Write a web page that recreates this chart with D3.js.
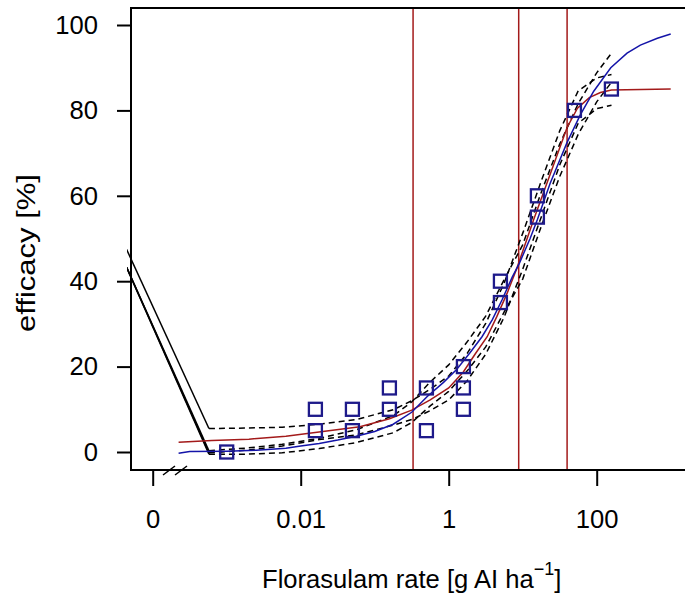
<!DOCTYPE html>
<html>
<head>
<meta charset="utf-8">
<script src="https://cdn.jsdelivr.net/npm/d3@7"></script>
<style>
body { margin: 0; background: #fff; }
text { font-family: "Liberation Sans", Arial, sans-serif; fill: #000; }
</style>
</head>
<body>
<svg id="chart" width="685" height="599"></svg>
<script>
// x ticks, 1e-4 is where the untreated control ("0") sits on the broken axis
let xTicks = [1e-4, 0.01, 1, 100]
let xTickLabels = ['0', '0.01', '1', '100']
let yTicks = [0, 20, 40, 60, 80, 100]

// observations
let obsDose = [0.001, 0.0158, 0.0158, 0.05, 0.05, 0.158, 0.158, 0.5, 0.5, 1.58, 1.58, 1.58, 5, 5, 15.8, 15.8, 50, 158]
let obsEff  = [0, 10, 5, 10, 5, 15, 10, 15, 5, 20, 15, 10, 40, 35, 60, 55, 80, 85]

// effective doses (vertical lines)
let edDose = [0.33, 8.83, 39.8]

// fitted curves, doses given as log10
let redLogDose = [-3.65, -3.2, -2.7, -2.2, -1.7, -1.2, -0.8, -0.5, -0.25, 0, 0.2, 0.36, 0.52, 0.65, 0.79, 0.92, 1.06, 1.15, 1.37, 1.6, 1.74, 1.9, 2.05, 2.2, 3.0]
let redEff     = [2.3, 2.7, 3.0, 3.7, 4.8, 5.9, 7.8, 9.8, 12.2, 15, 18.8, 23, 27, 31.7, 37.2, 43, 50, 54.5, 65, 76, 80.5, 83, 84.2, 84.8, 85]

let blueLogDose = [-3.65, -3.5, -3.0, -2.6, -2.2, -2.0, -1.75, -1.5, -1.25, -1.0, -0.75, -0.5, -0.29, -0.07, 0.11, 0.29, 0.45, 0.59, 0.72, 0.86, 0.95, 1.1, 1.2, 1.37, 1.6, 1.78, 1.96, 2.19, 2.41, 2.59, 2.82, 3.0]
let blueEff     = [-0.3, 0.1, 0.2, 0.4, 0.9, 1.4, 2.0, 2.8, 3.7, 4.8, 6.5, 9.3, 13, 16.3, 19.4, 23.3, 27, 31, 35.6, 41, 44, 50, 54.5, 62.9, 72.5, 79, 84.5, 90, 93.4, 95.3, 96.9, 97.9]

// confidence bands, first point is the control end of the solid connector
let ciLogDose = [-4.5, -3.24, -2.75, -2.25, -1.75, -1.25, -0.75, -0.5, -0.25, 0, 0.25, 0.5, 0.75, 1.0, 1.25, 1.5, 1.75, 2.0, 2.2]
let redUpper  = [53, 5.5, 5.6, 5.8, 6.5, 7.6, 9.9, 12.0, 14.7, 17.8, 23.1, 30.1, 39.6, 51.2, 63.4, 75.2, 84.6, 87.6, 88.4]
let redLower  = [49, -0.2, 0.4, 1.4, 2.9, 4.0, 6.3, 7.6, 9.7, 12.2, 16.7, 22.9, 31.6, 42.8, 55.0, 67.2, 77.0, 80.4, 81.2]
let blueUpper = [49, 0.3, 0.9, 1.8, 3.2, 5.2, 8.5, 11.7, 16.4, 20.4, 25.8, 31.8, 40.4, 48.5, 60.8, 72.1, 81.6, 88.8, 93.4]
let blueLower = [49, -0.5, -0.5, -0.2, 0.8, 2.2, 4.5, 6.9, 10.8, 14.2, 19.0, 24.6, 32.8, 40.5, 52.8, 64.5, 74.4, 82.0, 86.6]

let m = {top: 8, left: 131, right: 690, bottom: 470}
let red = '#a31a1a'
let blue = '#1414a8'
let pointCol = '#1e1a8a'

let xScale = d3.scaleLog().domain([1e-4, 100]).range([152.7, 596.7])
let yScale = d3.scaleLinear().domain([0, 100]).range([452, 25])

let svg = d3.select('#chart')

svg.append('clipPath').attr('id', 'plotclip')
    .append('rect')
    .attr('x', 127).attr('y', m.top)
    .attr('width', m.right - 127).attr('height', m.bottom - m.top)

let plot = svg.append('g').attr('clip-path', 'url(#plotclip)')

let line = d3.line()
    .x(d => xScale(Math.pow(10, d[0])))
    .y(d => yScale(d[1]))

// vertical ED lines
plot.selectAll('.ed')
        .data(edDose)
    .enter().append('line')
        .attr('x1', d => xScale(d)).attr('x2', d => xScale(d))
        .attr('y1', m.top).attr('y2', m.bottom)
        .attr('stroke', red).attr('stroke-width', 1.5)

// confidence bands
let bands = [redUpper, redLower, blueUpper, blueLower]
bands.forEach(function(b) {
    let pts = ciLogDose.map((l, i) => [l, b[i]])
    // solid connector from the control
    plot.append('path')
        .attr('d', line(pts.slice(0, 2)))
        .attr('fill', 'none').attr('stroke', '#000').attr('stroke-width', 1.5)
    plot.append('path')
        .attr('d', line(pts.slice(1)))
        .attr('fill', 'none').attr('stroke', '#000').attr('stroke-width', 1.5)
        .attr('stroke-dasharray', '6,4')
})

// fitted curves
plot.append('path')
    .attr('d', line(redLogDose.map((l, i) => [l, redEff[i]])))
    .attr('fill', 'none').attr('stroke', red).attr('stroke-width', 1.5)

plot.append('path')
    .attr('d', line(blueLogDose.map((l, i) => [l, blueEff[i]])))
    .attr('fill', 'none').attr('stroke', blue).attr('stroke-width', 1.5)

// observations
plot.selectAll('.pt')
        .data(obsDose)
    .enter().append('rect')
        .attr('x', d => xScale(d) - 6.5)
        .attr('y', (d, i) => yScale(obsEff[i]) - 6.5)
        .attr('width', 13).attr('height', 13)
        .attr('fill', 'none').attr('stroke', pointCol).attr('stroke-width', 2.3)

// box
svg.append('rect')
    .attr('x', m.left).attr('y', m.top)
    .attr('width', m.right - m.left).attr('height', m.bottom - m.top)
    .attr('fill', 'none').attr('stroke', '#000').attr('stroke-width', 2)

// axes
let yAxis = d3.axisLeft(yScale).tickValues(yTicks).tickSize(14).tickPadding(19)
let gy = svg.append('g')
    .attr('transform', `translate(${m.left}, 0)`)
    .call(yAxis)
gy.select('.domain').remove()

let xAxis = d3.axisBottom(xScale).tickValues(xTicks)
    .tickFormat((d, i) => xTickLabels[i]).tickSize(16).tickPadding(24)
let gx = svg.append('g')
    .attr('transform', `translate(0, ${m.bottom})`)
    .call(xAxis)
gx.select('.domain').remove()

svg.selectAll('.tick line').attr('stroke', '#000').attr('stroke-width', 2)
svg.selectAll('.tick text')
    .attr('font-size', 25.6)
    .attr('font-family', '"Liberation Sans", Arial, sans-serif')
    .attr('fill', '#000')

// axis break marks
let breakX = [163, 175]
breakX.forEach(function(bx) {
    svg.append('line')
        .attr('x1', bx).attr('y1', m.bottom + 5)
        .attr('x2', bx + 12).attr('y2', m.bottom - 4)
        .attr('stroke', '#000').attr('stroke-width', 1.5)
})

// labels
svg.append('text')
    .attr('transform', 'translate(35, 253) rotate(-90)')
    .attr('text-anchor', 'middle')
    .attr('font-size', 25.6)
    .attr('textLength', 158)
    .attr('lengthAdjust', 'spacingAndGlyphs')
    .text('efficacy [%]')

let xl = svg.append('text')
    .attr('x', 262).attr('y', 588)
    .attr('font-size', 25.6)
xl.append('tspan').text('Florasulam rate [g AI ha')
xl.append('tspan').attr('dy', -13).attr('font-size', 18).text('\u22121')
xl.append('tspan').attr('dy', 13).text(']')
</script>
</body>
</html>
